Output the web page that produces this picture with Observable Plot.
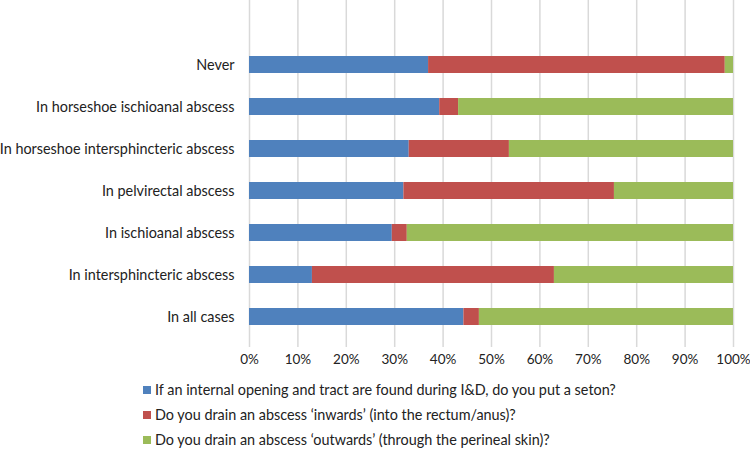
<!DOCTYPE html>
<html>
<head>
<meta charset="utf-8">
<script src="https://cdn.jsdelivr.net/npm/d3@7"></script>
<script src="https://cdn.jsdelivr.net/npm/@observablehq/plot@0.6"></script>
<style>
  html, body { margin: 0; padding: 0; background: #fff; }
  body { width: 750px; height: 459px; overflow: hidden; font-family: Lato, "Noto Sans", sans-serif; }
  #legend { position: relative; margin-top: 7px; }
  .row { display: flex; align-items: center; height: 25px; margin-left: 143px; font-size: 14.4px; color: #222; }
  .sw { width: 8px; height: 8px; margin-right: 4px; flex: none; }
</style>
</head>
<body>
<div id="chart"></div>
<div id="legend"></div>
<script>
const categories = [
  "Never",
  "In horseshoe ischioanal abscess",
  "In horseshoe intersphincteric abscess",
  "In pelvirectal abscess",
  "In ischioanal abscess",
  "In intersphincteric abscess",
  "In all cases"
];
const seriesNames = [
  "If an internal opening and tract are found during I&D, do you put a seton?",
  "Do you drain an abscess \u2018inwards\u2019 (into the rectum/anus)?",
  "Do you drain an abscess \u2018outwards\u2019 (through the perineal skin)?"
];
const seton    = [37.0, 39.3, 33.0, 31.9, 29.5, 13.0, 44.3];
const inwards  = [61.3,  3.9, 20.7, 43.5,  3.1, 50.0,  3.2];
const outwards = [ 1.7, 56.8, 46.3, 24.6, 67.4, 37.0, 52.5];
const colors = ["#4F81BD", "#C0504D", "#9BBB59"];
const xTicks = [0, 10, 20, 30, 40, 50, 60, 70, 80, 90, 100];

const seriesValues = [seton, inwards, outwards];
const rows = [];
seriesNames.forEach((s, si) => {
  categories.forEach((c, ci) => {
    rows.push({category: c, series: s, order: si, value: seriesValues[si][ci]});
  });
});

const chart = Plot.plot({
  width: 750,
  height: 370,
  marginLeft: 249,
  marginRight: 17,
  marginTop: 0,
  marginBottom: 23,
  style: {fontFamily: "Lato, 'Noto Sans', sans-serif", fontSize: "14.4px", color: "#222", background: "#fff", overflow: "visible"},
  x: {domain: [0, 100], ticks: xTicks, tickFormat: d => d + "%", label: null},
  y: {domain: categories, range: [43, 338.4], paddingInner: 0.6, paddingOuter: 0.3, label: null},
  color: {domain: seriesNames, range: colors},
  marks: [
    Plot.ruleX(xTicks, {stroke: "#d9d9d9", strokeWidth: 1.5}),
    Plot.barX(rows, Plot.stackX({x: "value", y: "category", fill: "series", order: "order"})),
    Plot.axisX({ticks: xTicks, tickFormat: d => d + "%", tickSize: 0, tickPadding: 7, fontSize: 13.5, label: null}),
    Plot.axisY({tickSize: 0, tickPadding: 15, label: null})
  ]
});
document.getElementById("chart").appendChild(chart);

const legend = document.getElementById("legend");
seriesNames.forEach((s, i) => {
  const row = document.createElement("div");
  row.className = "row";
  const sw = document.createElement("span");
  sw.className = "sw";
  sw.style.background = colors[i];
  const t = document.createElement("span");
  t.textContent = s;
  row.appendChild(sw);
  row.appendChild(t);
  legend.appendChild(row);
});
</script>
</body>
</html>
